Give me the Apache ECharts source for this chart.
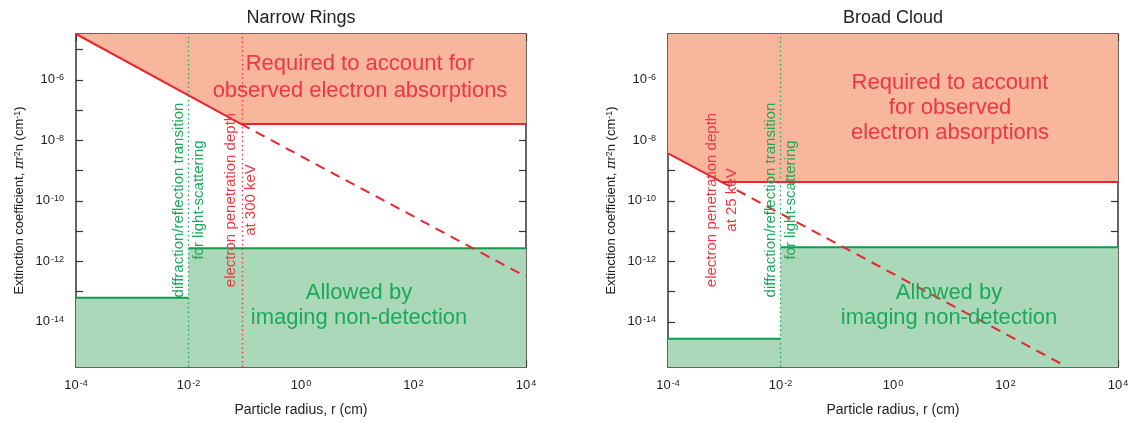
<!DOCTYPE html>
<html>
<head>
<meta charset="utf-8">
<script src="https://cdn.jsdelivr.net/npm/echarts@6/dist/echarts.min.js"></script>
<style>
  html, body { margin: 0; padding: 0; background: #fff; }
  #chart { width: 1129px; height: 422px; }
</style>
</head>
<body>
<div id="chart"></div>
<script>
// axis ranges: radius in cm, extinction in cm^-1
const xRange = [1e-4, 1e4];
const yRange = [3.2e-16, 3.3e-5];
const xTickValues = [1e-4, 1e-3, 1e-2, 1e-1, 1, 1e1, 1e2, 1e3, 1e4];
const xLabelValues = [1e-4, 1e-2, 1, 1e2, 1e4];
const yTickValues = [1e-15, 1e-14, 1e-13, 1e-12, 1e-11, 1e-10, 1e-9, 1e-8, 1e-7, 1e-6, 1e-5];
const yLabelValues = [1e-14, 1e-12, 1e-10, 1e-8, 1e-6];
const panelTitles = ['Narrow Rings', 'Broad Cloud'];

// Narrow Rings
const ringsRequired = [[1e-4, 3.3e-5], [0.085, 3.5e-8], [1e4, 3.5e-8]];
const ringsDashed = [[0.085, 3.5e-8], [1e4, 3.1e-13]];
const ringsAllowed = [[1e-4, 6.3e-14], [1e-2, 6.3e-14], [1e-2, 2.7e-12], [1e4, 2.7e-12]];
const ringsPenetration = 0.085;   // 300 keV
const ringsTransition = 1e-2;

// Broad Cloud
const cloudRequired = [[1e-4, 3.7e-9], [9e-4, 4.2e-10], [1e4, 4.2e-10]];
const cloudDashed = [[9e-4, 4.2e-10], [1e3, 4e-16]];
const cloudAllowed = [[1e-4, 2.75e-15], [1e-2, 2.75e-15], [1e-2, 2.9e-12], [1e4, 2.9e-12]];
const cloudPenetration = 9e-4;    // 25 keV
const cloudTransition = 1e-2;

const FONT = 'Liberation Sans, Arial, Helvetica, sans-serif';
const RED = '#e9262f';
const RED_TEXT = '#ec3844';
const SALMON = '#f8b69c';
const GREEN = '#0f9d4c';
const GREEN_TEXT = '#1ca95b';
const MINT = '#aad8b9';
const FRAME = '#333';

const chart = echarts.init(document.getElementById('chart'));

const grids = [
  { left: 76, top: 34, width: 450, height: 333, outerBoundsMode: 'none' },
  { left: 668, top: 34, width: 450, height: 333, outerBoundsMode: 'none' }
];

// 10 with the power as a superscript
function powerLabel (v) {
  const e = Math.round(Math.log10(v));
  return '{b|10}{s|' + e + '}';
}
const powerRich = {
  b: { fontSize: 13, color: '#222', fontFamily: FONT },
  s: { fontSize: 9, color: '#222', fontFamily: FONT, verticalAlign: 'top', padding: [0, 0, 0, 1] }
};

function xAxisFor (g, top) {
  return {
    type: 'log', logBase: 10, gridIndex: g, position: top ? 'top' : 'bottom',
    min: xRange[0], max: xRange[1],
    name: top ? '' : 'Particle radius, r (cm)',
    nameLocation: 'middle', nameGap: 36,
    nameTextStyle: { fontSize: 14, color: '#222', fontFamily: FONT },
    axisLine: { show: true, onZero: false, lineStyle: { color: FRAME, width: 1.5 } },
    axisTick: { show: true, inside: true, length: 7, customValues: xTickValues, lineStyle: { color: FRAME, width: 1.2 } },
    axisLabel: { show: !top, margin: 12, customValues: xLabelValues, formatter: powerLabel, rich: powerRich },
    splitLine: { show: false },
    minorTick: { show: false }
  };
}

function yAxisFor (g, right) {
  return {
    type: 'log', logBase: 10, gridIndex: g, position: right ? 'right' : 'left',
    min: yRange[0], max: yRange[1],
    name: right ? '' : 'Extinction coefficient, {i|π}r{s|2}n (cm{s|-1})',
    nameLocation: 'middle', nameGap: 50,
    nameTextStyle: {
      fontSize: 13, color: '#222', fontFamily: FONT,
      rich: {
        i: { fontSize: 13, fontStyle: 'italic', fontFamily: 'DejaVu Serif', color: '#222' },
        s: { fontSize: 9, color: '#222', fontFamily: FONT, verticalAlign: 'top' }
      }
    },
    axisLine: { show: true, onZero: false, lineStyle: { color: FRAME, width: 1.5 } },
    axisTick: { show: true, inside: true, length: 7, customValues: yTickValues, lineStyle: { color: FRAME, width: 1.2 } },
    axisLabel: { show: !right, margin: 12, customValues: yLabelValues, formatter: powerLabel, rich: powerRich },
    splitLine: { show: false },
    minorTick: { show: false }
  };
}

function panelSeries (g, required, dashed, allowed, penetration, transition) {
  const ax = g * 2;
  return [
    {
      // region needed for the electron absorptions, filled up to the top
      type: 'line', xAxisIndex: ax, yAxisIndex: ax, data: required,
      showSymbol: false, silent: true, z: 2,
      lineStyle: { color: RED, width: 2 },
      areaStyle: { color: SALMON, opacity: 1, origin: 'end' }
    },
    {
      // region allowed by imaging, filled down to the bottom
      type: 'line', xAxisIndex: ax, yAxisIndex: ax, data: allowed,
      showSymbol: false, silent: true, z: 1,
      lineStyle: { width: 0 },
      areaStyle: { color: MINT, opacity: 1, origin: 'start' }
    },
    {
      type: 'line', xAxisIndex: ax, yAxisIndex: ax, data: allowed.slice(0, 2),
      showSymbol: false, silent: true, z: 3,
      lineStyle: { color: GREEN, width: 2 }
    },
    {
      type: 'line', xAxisIndex: ax, yAxisIndex: ax, data: allowed.slice(2),
      showSymbol: false, silent: true, z: 3,
      lineStyle: { color: GREEN, width: 2 },
      markLine: {
        symbol: 'none', silent: true, label: { show: false },
        lineStyle: { type: [1.5, 3], width: 1.3 },
        data: [
          { xAxis: transition, lineStyle: { color: GREEN_TEXT } },
          { xAxis: penetration, lineStyle: { color: RED_TEXT } }
        ]
      }
    },
    {
      type: 'line', xAxisIndex: ax, yAxisIndex: ax, data: dashed,
      showSymbol: false, silent: true, z: 4,
      lineStyle: { color: RED, width: 2, type: [10, 7] }
    }
  ];
}

chart.setOption({
  animation: false,
  textStyle: { fontFamily: FONT },
  grid: grids,
  xAxis: [xAxisFor(0, false), xAxisFor(0, true), xAxisFor(1, false), xAxisFor(1, true)],
  yAxis: [yAxisFor(0, false), yAxisFor(0, true), yAxisFor(1, false), yAxisFor(1, true)],
  series: [].concat(
    panelSeries(0, ringsRequired, ringsDashed, ringsAllowed, ringsPenetration, ringsTransition),
    panelSeries(1, cloudRequired, cloudDashed, cloudAllowed, cloudPenetration, cloudTransition)
  )
});

// annotations
function bigText (x, y, text, color, lh) {
  return {
    type: 'text', x: x, y: y, z: 50, silent: true,
    style: { text: text, fill: color, font: '22px ' + FONT, align: 'center', verticalAlign: 'middle', lineHeight: lh }
  };
}
function sideText (g, xVal, text, color) {
  const ax = g * 2;
  const p = chart.convertToPixel({ xAxisIndex: ax, yAxisIndex: ax }, [xVal, 1e-10]);
  return {
    type: 'text', x: p[0], y: grids[g].top + 166, rotation: Math.PI / 2, z: 50, silent: true,
    style: { text: text, fill: color, font: '15px ' + FONT, align: 'center', verticalAlign: 'middle', lineHeight: 20 }
  };
}

const graphics = [];
panelTitles.forEach(function (t, g) {
  graphics.push({
    type: 'text', x: grids[g].left + grids[g].width / 2, y: 18, silent: true,
    style: { text: t, fill: '#222', font: '18px ' + FONT, align: 'center', verticalAlign: 'middle' }
  });
});
graphics.push(bigText(360, 77, 'Required to account for\nobserved electron absorptions', RED_TEXT, 27));
graphics.push(bigText(359, 305, 'Allowed by\nimaging non-detection', GREEN_TEXT, 25));
graphics.push(bigText(950, 108, 'Required to account\nfor observed\nelectron absorptions', RED_TEXT, 25));
graphics.push(bigText(949, 305, 'Allowed by\nimaging non-detection', GREEN_TEXT, 25));
graphics.push(sideText(0, ringsTransition, 'diffraction/reflection transition\nfor light-scattering', GREEN_TEXT));
graphics.push(sideText(0, ringsPenetration, 'electron penetration depth\nat 300 keV', RED_TEXT));
graphics.push(sideText(1, cloudPenetration, 'electron penetration depth\nat 25 keV', RED_TEXT));
graphics.push(sideText(1, cloudTransition, 'diffraction/reflection transition\nfor light-scattering', GREEN_TEXT));

chart.setOption({ graphic: graphics });
</script>
</body>
</html>
